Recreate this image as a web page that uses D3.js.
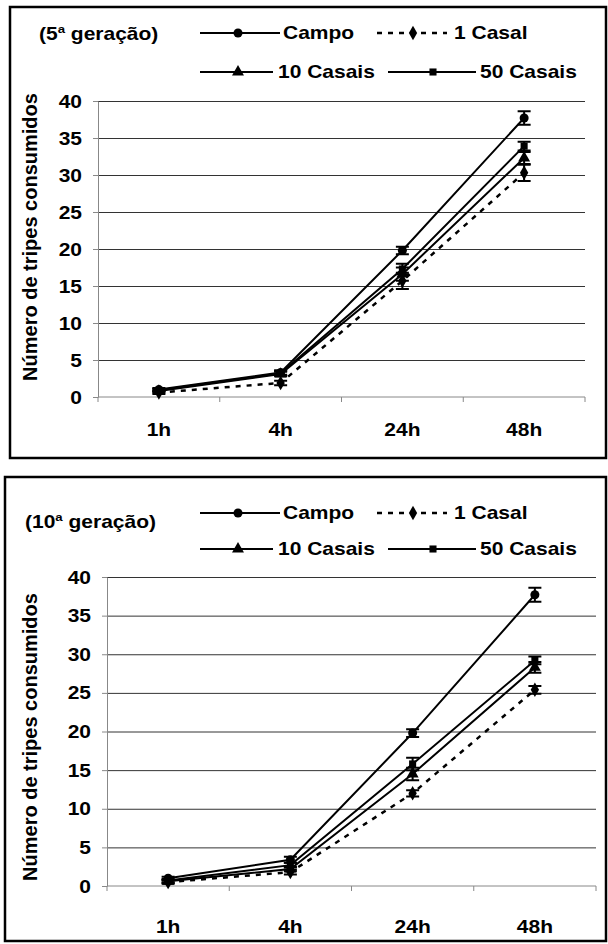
<!DOCTYPE html>
<html>
<head>
<meta charset="utf-8">
<script src="https://cdn.jsdelivr.net/npm/d3@7"></script>
<style>
  body { margin: 0; background: #fff; }
  svg { display: block; }
  text { font-family: "Liberation Sans", Arial, Helvetica, sans-serif; font-weight: bold; fill: #000; }
</style>
</head>
<body>
<svg id="chart" width="608" height="944"></svg>
<script>
// tempos de exposição
var times = ['1h', '4h', '24h', '48h'];
var seriesNames = ['Campo', '1 Casal', '10 Casais', '50 Casais'];
var yTicks = [0, 5, 10, 15, 20, 25, 30, 35, 40];

// 5a geração (média por série, mesma ordem de seriesNames)
var gen5Campo = [1.0, 3.3, 19.8, 37.7];
var gen5Casal1 = [0.6, 1.9, 15.7, 30.3];
var gen5Casais10 = [0.8, 3.1, 16.6, 32.3];
var gen5Casais50 = [0.9, 3.2, 17.3, 33.9];
var gen5CampoErr = [0.2, 0.3, 0.5, 0.9];
var gen5Casal1Err = [0.2, 0.3, 1.1, 1.1];
var gen5Casais10Err = [0.2, 0.3, 0.9, 0.8];
var gen5Casais50Err = [0.2, 0.3, 0.7, 0.6];

// 10a geração
var gen10Campo = [1.0, 3.4, 19.8, 37.7];
var gen10Casal1 = [0.5, 1.8, 12.0, 25.4];
var gen10Casais10 = [0.6, 2.2, 14.5, 28.3];
var gen10Casais50 = [0.7, 2.7, 15.8, 29.2];
var gen10CampoErr = [0.2, 0.4, 0.5, 0.9];
var gen10Casal1Err = [0.2, 0.3, 0.4, 0.5];
var gen10Casais10Err = [0.2, 0.3, 0.8, 0.7];
var gen10Casais50Err = [0.2, 0.3, 0.8, 0.5];

var sx = 1.2;      // texto horizontal mais largo, como no original
var fontSize = 17.5;

var symbols = [d3.symbolCircle, d3.symbolDiamond, d3.symbolTriangle, d3.symbolSquare];
var symSize = [64, 60, 62, 50];
var dashes = [null, '5,6', null, null];

var svg = d3.select('#chart');

function label(g, x, y, txt, anchor) {
    return g.append('text')
        .attr('transform', 'translate(' + x + ',' + y + ') scale(' + sx + ',1)')
        .attr('text-anchor', anchor || 'start')
        .style('font-size', fontSize + 'px')
        .text(txt);
}

var panels = [
    {
        gen: '5',
        box: { x: 10, y: 7, x2: 606, y2: 458 },
        plot: { left: 98, right: 585, top: 101, bottom: 397 },
        title: [39, 40],
        legendY: [33, 72],
        xLabelY: 436,
        yTitle: [37, 237],
        means: [gen5Campo, gen5Casal1, gen5Casais10, gen5Casais50],
        errs: [gen5CampoErr, gen5Casal1Err, gen5Casais10Err, gen5Casais50Err]
    },
    {
        gen: '10',
        box: { x: 5, y: 477, x2: 606, y2: 941 },
        plot: { left: 107, right: 596, top: 577, bottom: 886 },
        title: [25, 528],
        legendY: [513, 549],
        xLabelY: 933,
        yTitle: [37, 737],
        means: [gen10Campo, gen10Casal1, gen10Casais10, gen10Casais50],
        errs: [gen10CampoErr, gen10Casal1Err, gen10Casais10Err, gen10Casais50Err]
    }
];

panels.forEach(function (p) {
    var g = svg.append('g');

    g.append('rect')
        .attr('x', p.box.x).attr('y', p.box.y)
        .attr('width', p.box.x2 - p.box.x).attr('height', p.box.y2 - p.box.y)
        .attr('fill', 'none').attr('stroke', '#000').attr('stroke-width', 2.5);

    var x = d3.scaleBand().domain(times).range([p.plot.left, p.plot.right]);
    var y = d3.scaleLinear().domain([0, 40]).range([p.plot.bottom, p.plot.top]);
    var w = p.plot.right - p.plot.left;

    // grid
    g.append('g')
        .attr('transform', 'translate(' + p.plot.left + ',0)')
        .call(d3.axisLeft(y).tickValues(yTicks.slice(1)).tickSize(-w).tickFormat(''))
        .call(function (a) {
            a.select('.domain').remove();
            a.selectAll('line').attr('stroke', '#333').attr('stroke-width', 1);
        });

    // eixo y
    g.append('g')
        .attr('transform', 'translate(' + p.plot.left + ',0)')
        .call(d3.axisLeft(y).tickValues(yTicks).tickSize(5).tickSizeOuter(0))
        .call(function (a) {
            a.select('.domain').attr('stroke', '#888');
            a.selectAll('line').attr('stroke', '#888');
            a.selectAll('text')
                .attr('x', -16 / sx).attr('dy', null).attr('y', 6)
                .attr('transform', 'scale(' + sx + ',1)')
                .style('font-size', fontSize + 'px')
                .style('font-family', null);
        });

    // eixo x
    g.append('line')
        .attr('x1', p.plot.left).attr('x2', p.plot.right)
        .attr('y1', y(0)).attr('y2', y(0))
        .attr('stroke', '#888');
    var bounds = times.map(function (t) { return x(t); }).concat([p.plot.right]);
    g.selectAll('.xtick').data(bounds).enter().append('line')
        .attr('x1', function (d) { return d; }).attr('x2', function (d) { return d; })
        .attr('y1', y(0)).attr('y2', y(0) + 5)
        .attr('stroke', '#888');
    times.forEach(function (t) {
        label(g, x(t) + x.bandwidth() / 2, p.xLabelY, t, 'middle');
    });

    // título eixo y
    g.append('text')
        .attr('transform', 'translate(' + p.yTitle[0] + ',' + p.yTitle[1] + ') rotate(-90)')
        .attr('text-anchor', 'middle')
        .style('font-size', '20px')
        .text('Número de tripes consumidos');

    // título do painel
    var t = g.append('text')
        .attr('transform', 'translate(' + p.title[0] + ',' + p.title[1] + ') scale(' + sx + ',1)')
        .style('font-size', fontSize + 'px');
    t.append('tspan').text('(' + p.gen);
    t.append('tspan').attr('dy', -7).style('font-size', '11px').text('a');
    t.append('tspan').attr('dy', 7).text(' geração)');

    var cx = function (i) { return x(times[i]) + x.bandwidth() / 2; };
    var line = d3.line().x(function (d, i) { return cx(i); }).y(function (d) { return y(d); });

    p.means.forEach(function (m, s) {
        g.append('path')
            .attr('d', line(m))
            .attr('fill', 'none').attr('stroke', '#000')
            .attr('stroke-width', s === 1 ? 2.5 : 2)
            .attr('stroke-dasharray', dashes[s]);
    });

    p.means.forEach(function (m, s) {
        var e = p.errs[s];
        m.forEach(function (v, i) {
            var xx = cx(i);
            var y1 = y(v + e[i]), y2 = y(v - e[i]);
            g.append('path')
                .attr('d', 'M' + xx + ',' + y1 + 'V' + y2 +
                    'M' + (xx - 6.5) + ',' + y1 + 'H' + (xx + 6.5) +
                    'M' + (xx - 6.5) + ',' + y2 + 'H' + (xx + 6.5))
                .attr('stroke', '#000').attr('stroke-width', 2).attr('fill', 'none');
        });
    });

    p.means.forEach(function (m, s) {
        g.selectAll('.mk' + s).data(m).enter().append('path')
            .attr('transform', function (d, i) { return 'translate(' + cx(i) + ',' + y(d) + ')'; })
            .attr('d', d3.symbol().type(symbols[s]).size(symSize[s]))
            .attr('fill', '#000');
    });

    // legenda
    var leg = [
        { s: 0, x1: 200, x2: 280, mx: 238, tx: 283, row: 0 },
        { s: 1, x1: 377, x2: 447, mx: 413, tx: 454, row: 0 },
        { s: 2, x1: 200, x2: 273, mx: 238, tx: 278, row: 1 },
        { s: 3, x1: 388, x2: 476, mx: 433, tx: 480, row: 1 }
    ];
    leg.forEach(function (l) {
        var ly = p.legendY[l.row];
        g.append('line')
            .attr('x1', l.x1).attr('x2', l.x2).attr('y1', ly).attr('y2', ly)
            .attr('stroke', '#000')
            .attr('stroke-width', l.s === 1 ? 2.5 : 2)
            .attr('stroke-dasharray', dashes[l.s]);
        g.append('path')
            .attr('transform', 'translate(' + l.mx + ',' + ly + ')')
            .attr('d', d3.symbol().type(symbols[l.s]).size(symSize[l.s]))
            .attr('fill', '#000');
        label(g, l.tx, ly + 6, seriesNames[l.s]);
    });
});
</script>
</body>
</html>
